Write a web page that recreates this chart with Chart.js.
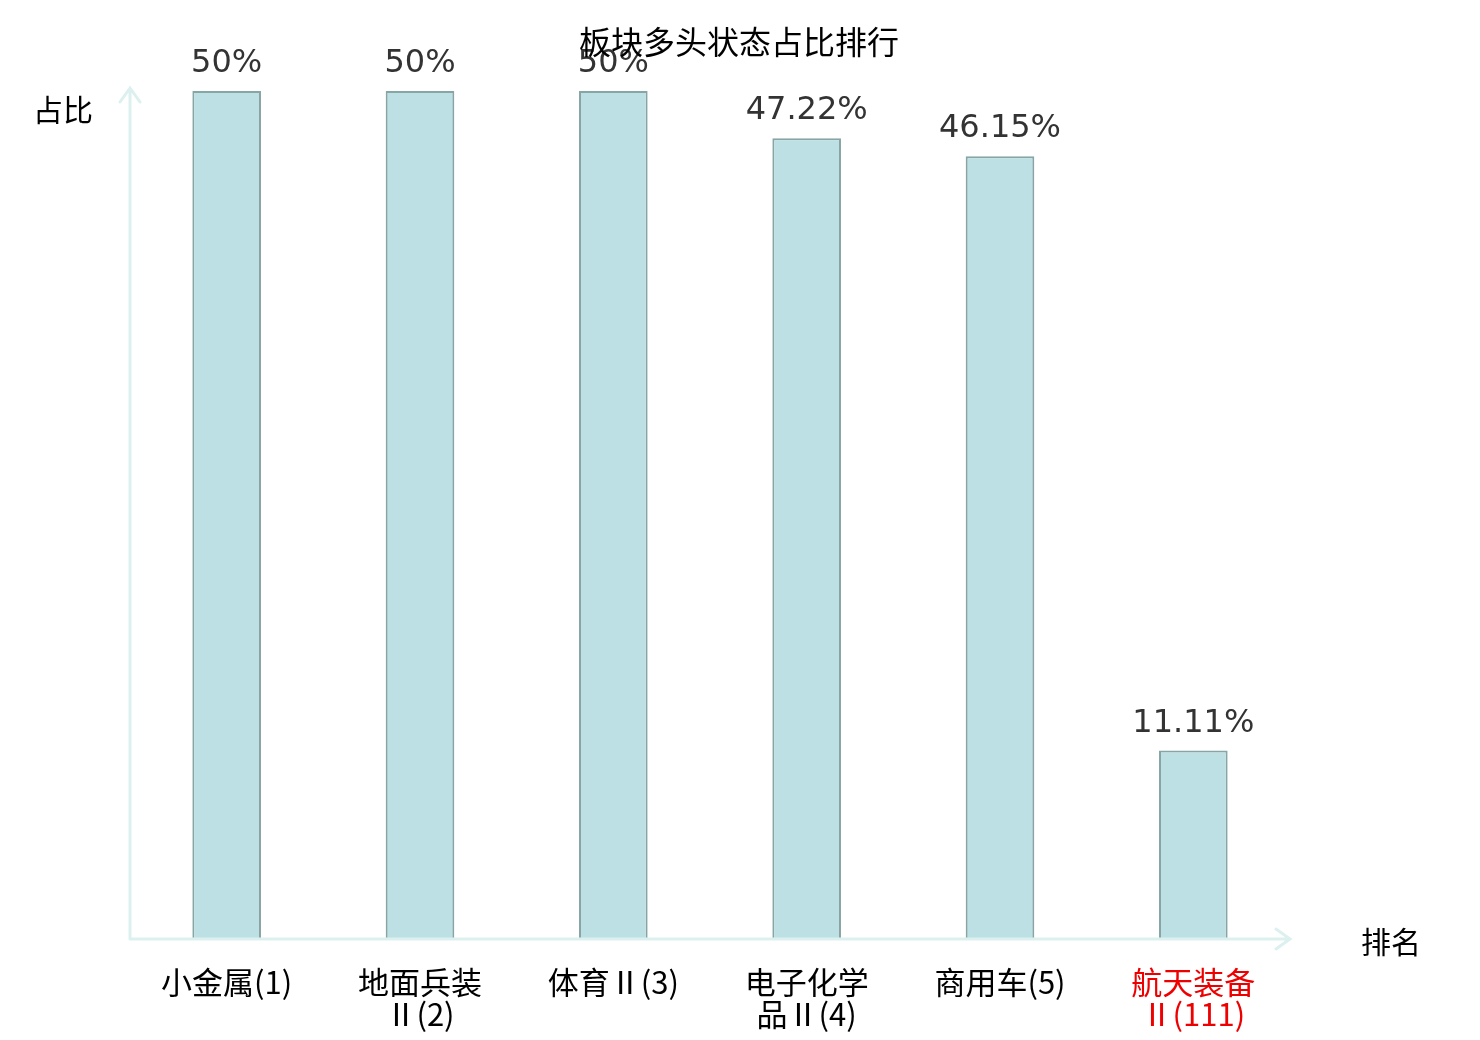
<!DOCTYPE html>
<html>
<head>
<meta charset="utf-8">
<script src="https://cdn.jsdelivr.net/npm/chart.js@4.4.1/dist/chart.umd.min.js"></script>
<style>
  html, body { margin: 0; padding: 0; background: #fff; }
  #wrap { width: 1480px; height: 1040px; }
</style>
</head>
<body>
<div id="wrap"><canvas id="myChart" width="1480" height="1040"></canvas></div>
<script>
const categories = [
  ["小金属(1)"],
  ["地面兵装", "Ⅱ(2)"],
  ["体育Ⅱ(3)"],
  ["电子化学", "品Ⅱ(4)"],
  ["商用车(5)"],
  ["航天装备", "Ⅱ(111)"]
];
const shares = [50, 50, 50, 47.22, 46.15, 11.11];
const shareLabels = ["50%", "50%", "50%", "47.22%", "46.15%", "11.11%"];
const highlight = [false, false, false, false, false, true];

const chartTitle = "板块多头状态占比排行";
const yName = "占比";
const xName = "排名";

const axisColor = "#dcf1ef";
const cjk = "'Noto Sans CJK SC', 'DejaVu Sans', sans-serif";

// axis arrows, axis names, value labels, title
const decorations = {
  id: "decorations",
  afterDatasetsDraw(chart) {
    const ctx = chart.ctx;
    const area = chart.chartArea;
    const x0 = area.left, y0 = area.bottom;
    const yTop = area.top - 3, xEnd = area.right;

    ctx.save();
    ctx.strokeStyle = axisColor;
    ctx.lineWidth = 3;
    ctx.lineCap = "round";
    ctx.beginPath();
    ctx.moveTo(x0, y0);
    ctx.lineTo(x0, yTop);
    ctx.moveTo(x0 - 10, yTop + 14);
    ctx.lineTo(x0, yTop);
    ctx.lineTo(x0 + 10, yTop + 14);
    ctx.moveTo(x0, y0);
    ctx.lineTo(xEnd, y0);
    ctx.moveTo(xEnd - 14, y0 - 10);
    ctx.lineTo(xEnd, y0);
    ctx.lineTo(xEnd - 14, y0 + 10);
    ctx.stroke();

    ctx.fillStyle = "#000";
    ctx.font = "30px " + cjk;
    ctx.textBaseline = "middle";
    ctx.textAlign = "center";
    ctx.fillText(yName, 63, 110);
    ctx.fillText(xName, 1391, 942);

    const meta = chart.getDatasetMeta(0);
    ctx.fillStyle = "#333";
    ctx.font = "32px 'DejaVu Sans', sans-serif";
    ctx.textBaseline = "alphabetic";
    meta.data.forEach((bar, i) => {
      ctx.fillText(shareLabels[i], bar.x, bar.y - 19);
    });

    ctx.fillStyle = "#000";
    ctx.font = "32px " + cjk;
    ctx.textBaseline = "middle";
    ctx.fillText(chartTitle, 739, 42);
    ctx.restore();
  }
};

const config = {
  type: "bar",
  data: {
    labels: categories,
    datasets: [{
      data: shares,
      backgroundColor: "#bce0e3",
      borderColor: "#88a5a6",
      borderWidth: 2,
      borderSkipped: "bottom",
      barPercentage: 0.355,
      categoryPercentage: 1
    }]
  },
  options: {
    responsive: false,
    animation: false,
    layout: { padding: { left: 130, right: 190, top: 91, bottom: 0 } },
    plugins: {
      legend: { display: false },
      tooltip: { enabled: false },
      title: { display: false }
    },
    scales: {
      x: {
        grid: { display: false, drawTicks: false },
        border: { display: false },
        ticks: {
          padding: 27,
          maxRotation: 0,
          autoSkip: false,
          font: { size: 31, family: cjk, lineHeight: 1.04 },
          color: ctx => highlight[ctx.index] ? "#ee0000" : "#000"
        },
        afterFit: scale => { scale.height = 101; }
      },
      y: {
        display: false,
        min: 0,
        max: 50
      }
    }
  },
  plugins: [decorations]
};

new Chart(document.getElementById("myChart"), config);
</script>
</body>
</html>
